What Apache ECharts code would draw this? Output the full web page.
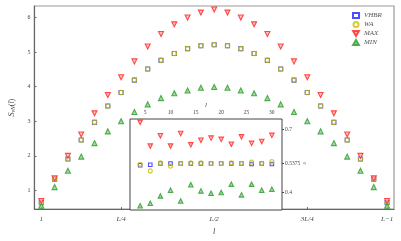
<!DOCTYPE html>
<html><head><meta charset="utf-8">
<script src="https://cdn.jsdelivr.net/npm/echarts@6/dist/echarts.min.js"></script>
<style>html,body{margin:0;padding:0;background:#fff}#c{width:401px;height:241px}</style>
</head><body><div id="c"></div>
<script>
const lValues = [1,2,3,4,5,6,7,8,9,10,11,12,13,14,15,16,17,18,19,20,21,22,23,24,25,26,27];
const vhbrS = [0.65,1.33,1.91,2.46,2.97,3.44,3.83,4.19,4.51,4.76,4.96,5.10,5.18,5.21,5.18,5.10,4.96,4.76,4.51,4.19,3.83,3.44,2.97,2.46,1.91,1.33,0.65];
const waS   = [0.65,1.33,1.91,2.46,2.97,3.44,3.83,4.19,4.51,4.76,4.96,5.10,5.18,5.21,5.18,5.10,4.96,4.76,4.51,4.19,3.83,3.44,2.97,2.46,1.91,1.33,0.65];
const maxS  = [0.70,1.35,2.00,2.62,3.23,3.76,4.27,4.73,5.16,5.52,5.80,6.00,6.14,6.23,6.14,6.00,5.80,5.52,5.16,4.73,4.27,3.76,3.23,2.62,2.00,1.35,0.70];
const minS  = [0.56,1.10,1.57,1.98,2.37,2.71,3.00,3.27,3.49,3.67,3.81,3.89,3.97,3.99,3.97,3.89,3.81,3.67,3.49,3.27,3.00,2.71,2.37,1.98,1.57,1.10,0.56];
const xTickValues = [1,7,14,21,27];
const xTickLabels = ['1','L/4','L/2','3L/4','L\u22121'];
const yTickValues = [1,2,3,4,5,6];

const insetL = [4,6,8,10,12,14,16,18,20,22,24,26,28,30];
const insetVhbr = [0.529,0.531,0.537,0.537,0.5375,0.5375,0.5375,0.5375,0.5375,0.5375,0.5375,0.535,0.5375,0.535];
const insetWa   = [0.534,0.502,0.540,0.525,0.5375,0.540,0.540,0.537,0.537,0.541,0.538,0.544,0.538,0.546];
const insetMax  = [0.733,0.620,0.669,0.620,0.680,0.626,0.648,0.658,0.652,0.629,0.664,0.633,0.642,0.671];
const insetMin  = [0.336,0.348,0.383,0.410,0.359,0.436,0.407,0.396,0.399,0.439,0.388,0.439,0.410,0.415];
const insetXTicks = [5,10,15,20,25,30];
const insetYTicks = [0.4,0.5375,0.7];
const refValue = 0.5375;

const F = 'Liberation Serif';
const pair = (xs, ys) => xs.map((x,i)=>[x, ys[i]]);
const triDown = 'path://M0,0L20,0L10,17.3Z';
const triUp = 'path://M10,0L20,17.3L0,17.3Z';

const styles = {
  VHBR: {symbol:'rect', itemStyle:{color:'rgba(0,0,0,0)', borderColor:'#2020ff', borderWidth:1.1}},
  WA:   {symbol:'circle', itemStyle:{color:'rgba(0,0,0,0)', borderColor:'#c8c000', borderWidth:1.1}},
  MAX:  {symbol:triDown, itemStyle:{color:'#ffb4b4', borderColor:'#ff2020', borderWidth:1.1}},
  MIN:  {symbol:triUp, itemStyle:{color:'#8fd08f', borderColor:'#2a9a2a', borderWidth:1.1}}
};
const sizes = {VHBR:4, WA:4.5, MAX:5, MIN:5};
const mainData = {VHBR:vhbrS, WA:waS, MAX:maxS, MIN:minS};
const insetData = {VHBR:insetVhbr, WA:insetWa, MAX:insetMax, MIN:insetMin};
const names = ['VHBR','WA','MAX','MIN'];

const series = [];
names.forEach(n => {
  series.push(Object.assign({type:'scatter', name:n, xAxisIndex:0, yAxisIndex:0,
    symbolSize:sizes[n], data:pair(lValues, mainData[n]), z:3}, styles[n]));
});
names.forEach(n => {
  const s = Object.assign({type:'scatter', name:n, xAxisIndex:1, yAxisIndex:1,
    symbolSize:sizes[n]-0.5, data:pair(insetL, insetData[n]), z:5}, styles[n]);
  if (n === 'VHBR') {
    s.markLine = {silent:true, symbol:'none', label:{show:false},
      lineStyle:{color:'#aaa', width:0.8, type:'solid'}, data:[{yAxis:refValue}], z:1};
  }
  series.push(s);
});

const chart = echarts.init(document.getElementById('c'), null, {renderer:'canvas'});
chart.setOption({
  animation:false,
  backgroundColor:'#fff',
  legend:{orient:'vertical', left:347, top:7, itemWidth:6, itemHeight:5, itemGap:2,
    data:names, textStyle:{fontFamily:F, fontStyle:'italic', fontSize:7, color:'#555'}},
  grid:[
    {left:21, top:6, right:7, bottom:24, show:true, borderColor:'#999', borderWidth:1.2, backgroundColor:'#fff'},
    {left:130, top:119, width:152, height:91, show:true, borderColor:'#444', borderWidth:1, backgroundColor:'#fff', z:4}
  ],
  xAxis:[
    {type:'value', gridIndex:0, min:0.48, max:27.52,
      name:'l', nameLocation:'middle', nameGap:14,
      nameTextStyle:{fontFamily:F, fontStyle:'italic', fontSize:8, color:'#444'},
      axisLine:{show:true, lineStyle:{color:'#666', width:1.2}},
      axisTick:{show:true, inside:true, length:2, customValues:xTickValues, lineStyle:{color:'#666'}},
      axisLabel:{show:true, customValues:xTickValues, margin:7, fontFamily:F, fontStyle:'italic', fontSize:7, color:'#444',
        formatter:v => xTickLabels[xTickValues.indexOf(Math.round(v))]},
      splitLine:{show:false}},
    {type:'value', gridIndex:1, position:'top', min:2, max:32,
      name:'l', nameLocation:'middle', nameGap:10,
      nameTextStyle:{fontFamily:F, fontStyle:'italic', fontSize:7, color:'#444'},
      axisLine:{show:false},
      axisTick:{show:true, inside:true, length:2, customValues:insetXTicks, lineStyle:{color:'#444'}},
      axisLabel:{show:true, customValues:insetXTicks, margin:3, fontFamily:F, fontSize:5.5, color:'#444'},
      splitLine:{show:false}}
  ],
  yAxis:[
    {type:'value', gridIndex:0, min:0.464, max:6.33,
      name:'{s|S}{sub|vN}{n|(}{s|l}{n|)}', nameLocation:'middle', nameGap:12, nameRotate:90,
      nameTextStyle:{color:'#444', rich:{
        s:{fontFamily:F, fontStyle:'italic', fontSize:8, color:'#444'},
        n:{fontFamily:F, fontSize:8, color:'#444'},
        sub:{fontFamily:F, fontStyle:'italic', fontSize:5.5, color:'#444', verticalAlign:'bottom', padding:[3,0,0,0]}}},
      axisLine:{show:true, lineStyle:{color:'#666', width:1.2}},
      axisTick:{show:true, inside:true, length:2, customValues:yTickValues, lineStyle:{color:'#666'}},
      axisLabel:{show:true, customValues:yTickValues, margin:4, fontFamily:F, fontSize:6, color:'#444'},
      splitLine:{show:false}},
    {type:'value', gridIndex:1, position:'right', min:0.316, max:0.749,
      axisLine:{show:false},
      axisTick:{show:true, inside:false, length:2, customValues:insetYTicks, lineStyle:{color:'#444'}},
      axisLabel:{show:true, customValues:insetYTicks, margin:3, fontFamily:F, fontSize:5.5, color:'#444',
        formatter:v => Math.abs(v-refValue)<1e-6 ? '0.5375  \u2248' : String(v)},
      splitLine:{show:false}}
  ],
  series:series
});
</script></body></html>
